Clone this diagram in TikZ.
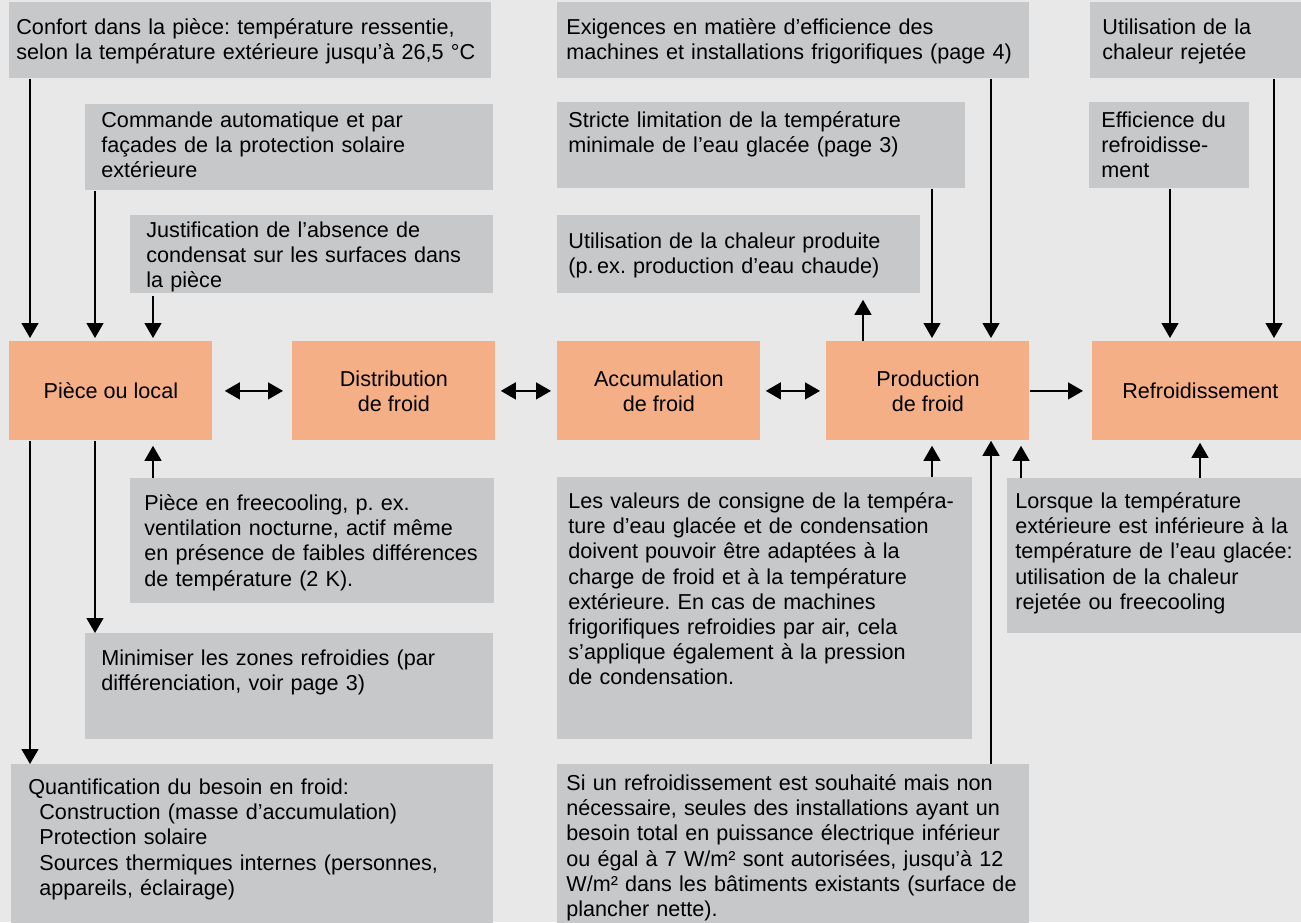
\documentclass[tikz,border=0pt]{standalone}
\usepackage{fontspec}
\setmainfont{Liberation Sans}
\usetikzlibrary{arrows.meta}
\definecolor{fond}{RGB}{232,232,232}
\definecolor{gris}{RGB}{199,200,202}
\definecolor{saumon}{RGB}{245,175,135}
\frenchspacing

\begin{document}
\begin{tikzpicture}[x=0.5pt,y=-0.5pt,
    font=\fontsize{10.8pt}{12.6pt}\selectfont,
    note/.style={fill=gris,anchor=north west,align=left,inner ysep=0pt},
    etape/.style={fill=saumon,anchor=north west,align=center,minimum height=49.5pt,minimum width=101.5pt,inner sep=0pt},
    fl/.style={-{Triangle[length=7.5pt,width=8.5pt]},line width=0.65pt},
    dfl/.style={{Triangle[length=7.5pt,width=8.5pt]}-{Triangle[length=7.5pt,width=8.5pt]},line width=0.65pt}]

        % Background
        \useasboundingbox (0,0) rectangle (1301,922);
        \fill[fond] (0,0) rectangle (1301,922);

        % Left column
        \node[note,inner xsep=3.5pt,text width=234pt,text height=16pt,text depth=22pt] (confort) at (9,2) {Confort dans la pièce: température ressentie,\\selon la température extérieure jusqu’à 26,5~°C};
        \node[note,inner xsep=8pt,text width=188pt,text height=11.5pt,text depth=31.5pt] (commande) at (85,104) {Commande automatique et par\\façades de la protection solaire\\extérieure};
        \node[note,inner xsep=8pt,text width=165.5pt,text height=11pt,text depth=28pt] (justif) at (130,215) {Justification de l’absence de\\condensat sur les surfaces dans\\la pièce};
        \node[note,inner xsep=7pt,text width=168pt,text height=16pt,text depth=46.5pt] (freecool) at (130,478) {Pièce en freecooling, p.~ex.\\ventilation nocturne, actif même\\en présence de faibles différences\\de température (2~K).};
        \node[note,inner xsep=8pt,text width=188pt,text height=16pt,text depth=37pt] (minimiser) at (85,633) {Minimiser les zones refroidies (par\\différenciation, voir page~3)};
        \node[note,inner xsep=8.5pt,text width=224pt,text height=15pt,text depth=68pt] (quantif) at (11,764) {Quantification du besoin en froid:\\\hspace*{5.5pt}Construction (masse d’accumulation)\\\hspace*{5.5pt}Protection solaire\\\hspace*{5.5pt}Sources thermiques internes (personnes,\\\hspace*{5.5pt}appareils, éclairage)};

        % Middle column
        \node[note,inner xsep=4.5pt,text width=227pt,text height=16pt,text depth=22pt] (exigences) at (557,2) {Exigences en matière d’efficience des\\machines et installations frigorifiques (page~4)};
        \node[note,inner xsep=5.5pt,text width=193pt,text height=12.5pt,text depth=30.5pt] (stricte) at (557,102) {Stricte limitation de la température\\minimale de l’eau glacée (page~3)};
        \node[note,inner xsep=5.5pt,text width=170.5pt,text height=16.5pt,text depth=22.5pt] (chaleurProd) at (557,215) {Utilisation de la chaleur produite\\(p.\,ex. production d’eau chaude)};
        \node[note,inner xsep=5.5pt,text width=196.5pt,text height=15.5pt,text depth=115.5pt] (consigne) at (557,477) {Les valeurs de consigne de la tempéra-\\ture d’eau glacée et de condensation\\doivent pouvoir être adaptées à la\\charge de froid et à la température\\extérieure. En cas de machines\\frigorifiques refroidies par air, cela\\s’applique également à la pression\\de condensation.};
        \node[note,inner xsep=4.5pt,text width=227pt,text height=13pt,text depth=70pt] (limite) at (557,764) {Si un refroidissement est souhaité mais non\\nécessaire, seules des installations ayant un\\besoin total en puissance électrique inférieur\\ou égal à 7~W/m² sont autorisées, jusqu’à 12\\W/m² dans les bâtiments existants (surface de\\plancher nette).};

        % Right column
        \node[note,inner xsep=6pt,text width=103pt,text height=16pt,text depth=22pt] (chaleurRej) at (1090,2) {Utilisation de la\\chaleur rejetée};
        \node[note,inner xsep=6pt,text width=68pt,text height=12.5pt,text depth=30.5pt] (efficience) at (1089,102) {Efficience du\\refroidisse-\\ment};
        \node[note,inner xsep=4pt,text width=148.5pt,text height=15pt,text depth=62.5pt] (lorsque) at (1007,478) {Lorsque la température\\extérieure est inférieure à la\\température de l’eau glacée:\\utilisation de la chaleur\\rejetée ou freecooling};

        % Chain of steps
        \node[etape] (piece) at (9,341) {Pièce ou local};
        \node[etape] (distrib) at (292,341) {Distribution\\de froid};
        \node[etape] (accum) at (557,341) {Accumulation\\de froid};
        \node[etape] (prod) at (826,341) {Production\\de froid};
        \node[etape,minimum width=108pt] (refroid) at (1092,341) {Refroidissement};

        % Columns of the vertical arrows
        \coordinate (xa) at (30,0);
        \coordinate (xb) at (95,0);
        \coordinate (xc) at (153,0);
        \coordinate (xd) at (863,0);
        \coordinate (xe) at (932,0);
        \coordinate (xf) at (991,0);
        \coordinate (xg) at (1021,0);
        \coordinate (xh) at (1170,0);
        \coordinate (xi) at (1200,0);
        \coordinate (xj) at (1274,0);

        % Pièce ou local
        \draw[fl,shorten >=1.5pt] (confort.south -| xa) -- (piece.north -| xa);
        \draw[fl,shorten >=1.5pt] (commande.south -| xb) -- (piece.north -| xb);
        \draw[fl,shorten <=1pt,shorten >=1.5pt] (justif.south -| xc) -- (piece.north -| xc);
        \draw[fl,shorten >=2.5pt] (freecool.north -| xc) -- (piece.south -| xc);
        \draw[fl] (piece.south -| xa) -- (quantif.north -| xa);
        \draw[fl] (piece.south -| xb) -- (minimiser.north -| xb);

        % Chain
        \draw[dfl,shorten <=6pt,shorten >=4.5pt] (piece.east) -- (distrib.west);
        \draw[dfl,shorten <=2.5pt,shorten >=3pt] (distrib.east) -- (accum.west);
        \draw[dfl,shorten <=2.5pt,shorten >=3pt] (accum.east) -- (prod.west);
        \draw[fl,shorten >=4.5pt] (prod.east) -- (refroid.west);

        % Production de froid
        \draw[fl,shorten >=3pt] (prod.north -| xd) -- (chaleurProd.south -| xd);
        \draw[fl,shorten >=1.5pt] (stricte.south -| xe) -- (prod.north -| xe);
        \draw[fl,shorten >=1.5pt] (exigences.south -| xf) -- (prod.north -| xf);
        \draw[fl,shorten >=2.5pt] (consigne.north -| xe) -- (prod.south -| xe);
        \draw[fl] (limite.north -| xf) -- (prod.south -| xf);
        \draw[fl,shorten >=2.5pt] (lorsque.north -| xg) -- (prod.south -| xg);

        % Refroidissement
        \draw[fl,shorten >=1.5pt] (efficience.south -| xh) -- (refroid.north -| xh);
        \draw[fl,shorten >=1.5pt] (chaleurRej.south -| xj) -- (refroid.north -| xj);
        \draw[fl,shorten >=1pt] (lorsque.north -| xi) -- (refroid.south -| xi);

\end{tikzpicture}
\end{document}
